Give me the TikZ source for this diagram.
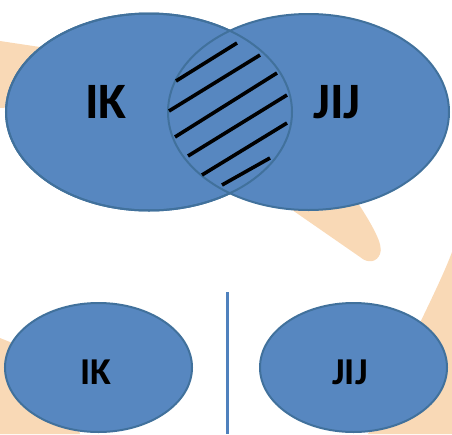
\documentclass[tikz,border=0pt]{standalone}
\usepackage{fontspec}
\setmainfont{Carlito}
\usetikzlibrary{shapes.geometric}
\definecolor{setfill}{HTML}{5787C0}
\definecolor{setedge}{HTML}{41719C}
\definecolor{skin}{HTML}{F9D9B6}
\definecolor{divider}{HTML}{4F81BD}
\begin{document}
\begin{tikzpicture}[x=1pt,y=-1pt,
  setshape/.style={ellipse, draw=setedge, line width=2pt, fill=setfill, inner sep=0pt},
  biglabel/.style={font=\bfseries\fontsize{51}{51}\selectfont, text=black, inner sep=0pt},
  smalllabel/.style={font=\bfseries\fontsize{38}{38}\selectfont, text=black, inner sep=0pt},
  hatch/.style={line width=3.6pt, black}]
\useasboundingbox (0,0) rectangle (452,434);

% skin-coloured shapes in the background
\fill[skin] (0,41) -- (60,50) -- (60,104) -- (0,108) -- cycle;
\fill[skin] (285,205) -- (358,203) .. controls (372,225) and (384,245) .. (380,254)
  .. controls (377,262) and (368,264) .. (360,257) -- cycle;
\fill[skin] (452,252) .. controls (438,290) and (400,360) .. (368,434) -- (452,434) -- cycle;
\fill[skin] (0,338) -- (60,362) -- (80,434) -- (0,434) -- cycle;

% intersecting sets
\node[setshape, minimum width=286pt, minimum height=197pt] (setL) at (149,112) {};
\node[setshape, minimum width=281pt, minimum height=196pt] (setR) at (308.5,112) {};
\draw[setedge, line width=2pt] (setL.center) ellipse [x radius=143pt, y radius=98.5pt];

% hatching of the intersection
\draw[hatch] (176,81) -- (237,43);
\draw[hatch] (169,111) -- (260,55);
\draw[hatch] (175,137) -- (277,73);
\draw[hatch] (188,156) -- (287,95);
\draw[hatch] (202,175) -- (287,123);
\draw[hatch] (222,185) -- (270,158);

\node[biglabel] (labL) at (106,102) {IK};
\node[biglabel] (labR) at (337,102) {JIJ};

% disjoint sets
\node[setshape, minimum width=187pt, minimum height=129pt] (dsL) at (98.5,367.5) {};
\node[setshape, minimum width=187pt, minimum height=129pt] (dsR) at (353.5,367.5) {};
\node[smalllabel] (dlabL) at (96,372) {IK};
\node[smalllabel] (dlabR) at (350,372) {JIJ};

\coordinate (divTop) at (227,292);
\coordinate (divBot) at (227,434);
\draw[divider, line width=3pt] (divTop) -- (divBot);
\end{tikzpicture}
\end{document}
